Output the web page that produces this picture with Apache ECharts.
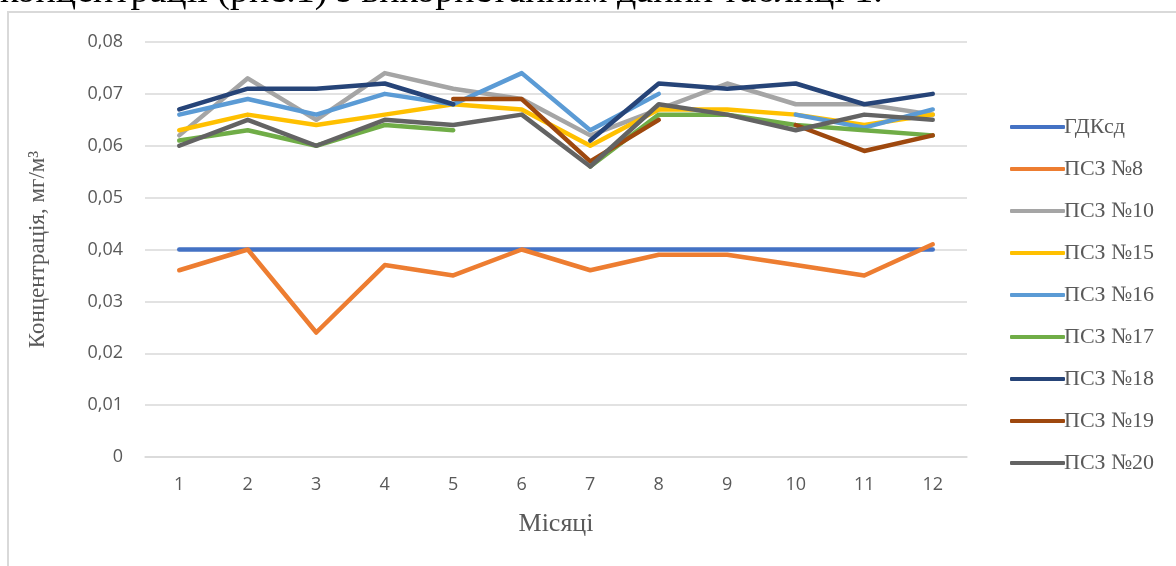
<!DOCTYPE html>
<html>
<head>
<meta charset="utf-8">
<script src="https://cdn.jsdelivr.net/npm/echarts@6/dist/echarts.min.js"></script>
<style>
  html, body { margin: 0; padding: 0; background: #fff; }
  #chart { width: 1176px; height: 566px; }
</style>
</head>
<body>
<div id="chart"></div>
<script>
const months = ['1', '2', '3', '4', '5', '6', '7', '8', '9', '10', '11', '12']
const seriesNames = ['ГДКсд', 'ПСЗ №8', 'ПСЗ №10', 'ПСЗ №15', 'ПСЗ №16', 'ПСЗ №17', 'ПСЗ №18', 'ПСЗ №19', 'ПСЗ №20']

const gdk = [0.04, 0.04, 0.04, 0.04, 0.04, 0.04, 0.04, 0.04, 0.04, 0.04, 0.04, 0.04]
const psz8 = [0.036, 0.040, 0.024, 0.037, 0.035, 0.040, 0.036, 0.039, 0.039, 0.037, 0.035, 0.041]
const psz10 = [0.062, 0.073, 0.065, 0.074, 0.071, 0.069, 0.062, 0.067, 0.072, 0.068, 0.068, 0.066]
const psz15 = [0.063, 0.066, 0.064, 0.066, 0.068, 0.067, 0.060, 0.067, 0.067, 0.066, 0.064, 0.066]
const psz16 = [0.066, 0.069, 0.066, 0.070, 0.068, 0.074, 0.063, 0.070, null, 0.066, 0.0635, 0.067]
const psz17 = [0.061, 0.063, 0.060, 0.064, 0.063, null, 0.056, 0.066, 0.066, 0.064, 0.063, 0.062]
const psz18 = [0.067, 0.071, 0.071, 0.072, 0.068, null, 0.061, 0.072, 0.071, 0.072, 0.068, 0.070]
const psz19 = [null, null, null, null, 0.069, 0.069, 0.057, 0.065, null, 0.064, 0.059, 0.062]
const psz20 = [0.060, 0.065, 0.060, 0.065, 0.064, 0.066, 0.056, 0.068, 0.066, 0.063, 0.066, 0.065]

const yTicks = [0, 0.01, 0.02, 0.03, 0.04, 0.05, 0.06, 0.07, 0.08]

const colors = ['#4472C4', '#ED7D31', '#A5A5A5', '#FFC000', '#5B9BD5', '#70AD47', '#264478', '#9E480E', '#636363']
const allData = [gdk, psz8, psz10, psz15, psz16, psz17, psz18, psz19, psz20]

const chart = echarts.init(document.getElementById('chart'))

const option = {
  animation: false,
  color: colors,
  grid: { left: 145, right: 209, top: 42, bottom: 109 },
  graphic: [
    {
      type: 'rect',
      shape: { x: 8, y: 12, width: 1300, height: 700 },
      style: { fill: 'none', stroke: '#d9d9d9', lineWidth: 2 },
      silent: true
    },
    {
      type: 'text',
      x: 0, y: -27,
      style: {
        text: 'концентрації (рис.1) з використанням даних таблиці 1.',
        font: '38px "Liberation Serif"',
        fill: '#000'
      }
    }
  ],
  legend: {
    orient: 'vertical',
    left: 1005,
    top: 110,
    itemWidth: 55,
    itemHeight: 4,
    itemGap: 18,
    icon: 'roundRect',
    data: seriesNames,
    textStyle: {
      fontFamily: 'Liberation Serif',
      fontSize: 22,
      color: '#595959',
      padding: [0, 0, 0, -6],
      lineHeight: 24
    }
  },
  xAxis: {
    type: 'category',
    data: months,
    boundaryGap: true,
    name: 'Місяці',
    nameLocation: 'middle',
    nameGap: 54,
    nameTextStyle: { fontFamily: 'Liberation Serif', fontSize: 26, color: '#595959' },
    axisLine: { lineStyle: { color: '#d9d9d9', width: 1.5 } },
    axisTick: { show: false },
    axisLabel: { fontFamily: 'Open Sans', fontSize: 18, color: '#595959', margin: 19 }
  },
  yAxis: {
    type: 'value',
    min: 0,
    max: 0.08,
    interval: 0.01,
    name: 'Концентрація, мг/м³',
    nameLocation: 'middle',
    nameGap: 96,
    nameTextStyle: { fontFamily: 'Liberation Serif', fontSize: 23, color: '#595959' },
    axisLine: { show: false },
    axisTick: { show: false },
    splitLine: { lineStyle: { color: '#d9d9d9', width: 1.5 } },
    axisLabel: {
      fontFamily: 'Open Sans',
      fontSize: 18,
      color: '#595959',
      margin: 22,
      formatter: (v) => {
        const t = yTicks.find(x => Math.abs(x - v) < 1e-9)
        return t === 0 ? '0' : String(t).replace('.', ',').padEnd(4, '0')
      }
    }
  },
  series: seriesNames.map((name, i) => ({
    name: name,
    type: 'line',
    data: allData[i],
    showSymbol: false,
    symbol: 'none',
    connectNulls: false,
    lineStyle: { width: 4.5, color: colors[i], cap: 'round', join: 'round' },
    itemStyle: { color: colors[i] }
  }))
}

chart.setOption(option)
</script>
</body>
</html>
